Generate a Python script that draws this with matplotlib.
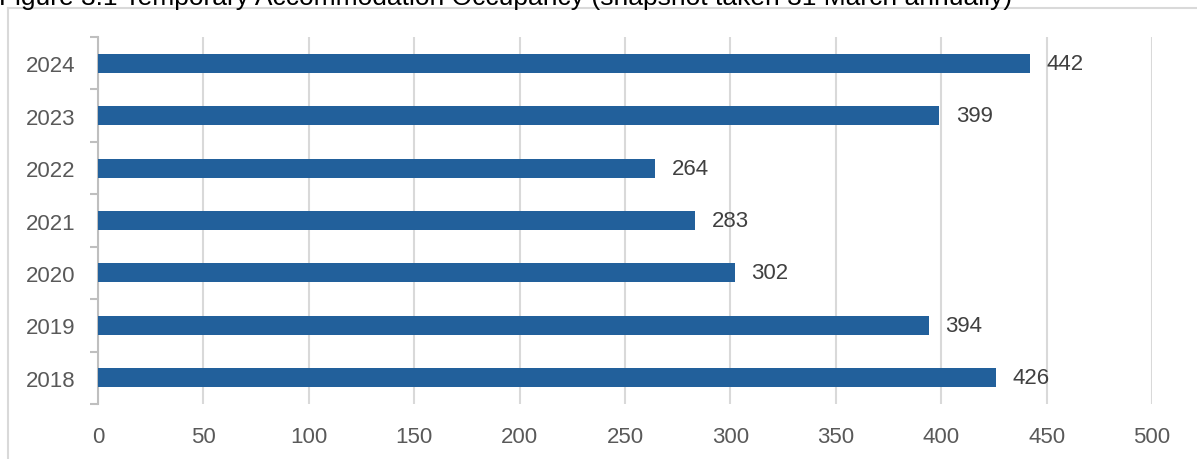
import matplotlib
matplotlib.use('Agg')
import matplotlib.pyplot as plt
from matplotlib.lines import Line2D
import numpy as np

# occupancy at 31 March each year
years = ['2018', '2019', '2020', '2021', '2022', '2023', '2024']
occupancy = [426, 394, 302, 283, 264, 399, 442]
xticks = [0, 50, 100, 150, 200, 250, 300, 350, 400, 450, 500]

plt.rcParams['font.family'] = ['Liberation Sans', 'DejaVu Sans']

W, H = 1197, 460
fig = plt.figure(figsize=(W / 100, H / 100), dpi=100)
ax = fig.add_axes([98 / W, 55 / H, 1054 / W, 367 / H])

ypos = np.arange(len(years))
ax.barh(ypos, occupancy, height=0.36, color='#22609B', zorder=3)
for y, v in zip(ypos, occupancy):
    ax.text(v + 8, y, str(v), va='center', ha='left', fontsize=16, color='#404040')

ax.set_xlim(0, 500)
ax.set_ylim(-0.5, len(years) - 0.5)
ax.set_xticks(xticks)
ax.set_xticklabels([str(t) for t in xticks])
ax.set_yticks(ypos)
ax.set_yticklabels(years)
ax.set_yticks(np.arange(-0.5, len(years)), minor=True)

ax.grid(axis='x', color='#d9d9d9', linewidth=1.5, zorder=0)
for s in ['top', 'right', 'bottom']:
    ax.spines[s].set_visible(False)
ax.spines['left'].set_color('#bfbfbf')
ax.spines['left'].set_linewidth(1.5)

ax.tick_params(axis='x', length=0, pad=16, labelsize=16, labelcolor='#595959')
ax.tick_params(axis='y', which='major', length=0, pad=16, labelsize=16, labelcolor='#595959')
ax.tick_params(axis='y', which='minor', length=6, width=1.5, color='#bfbfbf')

# chart frame, partly outside the canvas
fig.add_artist(Line2D([7.5 / W, 7.5 / W], [0, (H - 9) / H], color='#d9d9d9', linewidth=1.5, transform=fig.transFigure))
fig.add_artist(Line2D([7.5 / W, 1], [(H - 9) / H, (H - 9) / H], color='#d9d9d9', linewidth=1.5, transform=fig.transFigure))

# heading sits above the frame and runs off the top edge
fig.text(-1 / W, (H - 5) / H,
         'Figure 3.1 Temporary Accommodation Occupancy (snapshot taken 31 March annually)',
         ha='left', va='baseline', fontsize=19, color='#000000')

fig.savefig('out.png', dpi=100)
